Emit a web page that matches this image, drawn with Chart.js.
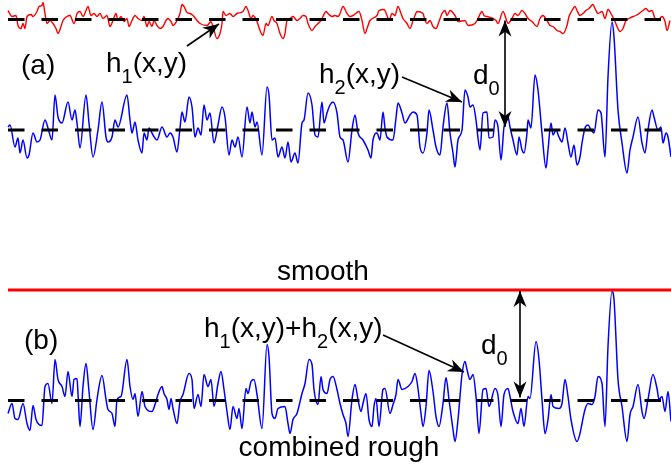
<!DOCTYPE html>
<html>
<head>
<meta charset="utf-8">
<script src="https://cdn.jsdelivr.net/npm/chart.js@4.4.1/dist/chart.umd.min.js"></script>
<style>
  html, body { margin: 0; padding: 0; background: #fff; }
  #wrap { width: 671px; height: 465px; }
</style>
</head>
<body>
<div id="wrap"><canvas id="surfChart" width="671" height="465"></canvas></div>
<script>
// h1: fine roughness of the upper surface (position, height about its mean plane)
const h1X = [8,12,16,18,21,23,25,27,31,33,37,39,42,43,45,47,50,53,56,58,61,63,67,70,74,77,80,83,86,88,91,94,97,100,103,107,110,113,116,118,121,124,127,129,132,135,138,142,144,147,149,152,154,157,160,163,166,168,171,173,177,180,182,184,187,190,193,197,200,207,211,213,217,220,222,223,226,230,233,237,243,246,248,251,253,257,260,263,266,268,272,274,277,280,283,285,287,290,293,297,300,303,306,308,312,315,318,321,323,326,328,332,335,338,340,343,347,350,353,359,362,365,367,370,377,379,384,387,389,392,395,398,401,403,407,410,413,415,417,423,425,427,430,433,436,439,442,445,447,450,455,458,465,468,475,478,482,484,487,493,496,498,503,506,508,512,515,518,522,525,528,532,537,540,543,547,550,553,557,560,563,567,569,572,575,577,580,583,586,589,593,595,598,602,605,608,612,615,617,620,623,626,629,633,636,643,646,649,652,655,658,662,665,667,670];
const h1Y = [9,3,4,-6,-9,-4,-9,3,5,3,8,13,14,17,6,-4,-1,-4,-9,-14,-7,-1,3,4,-4,6,8,3,9,13,4,6,3,6,1,4,-7,-1,6,-1,3,-2,1,-7,-1,4,1,-1,3,-7,-2,-7,-1,-6,-9,-7,-1,1,-2,-6,-1,6,15,13,7,6,4,-1,-4,-6,-2,-7,-19,-14,-4,8,4,6,3,6,8,13,9,1,4,-2,-11,-16,-4,-6,3,-1,-4,-14,-19,-14,-1,1,3,-1,1,4,3,-4,-11,-7,-4,-1,3,8,6,3,4,3,6,13,6,3,4,8,-1,-14,-9,-1,4,9,10,4,-1,6,4,13,6,1,-4,-9,-1,4,8,6,-1,-4,-1,-7,-9,-2,6,9,4,9,4,-2,-1,-6,-4,1,8,4,3,1,-1,-4,8,1,-4,1,6,4,9,6,1,-2,-7,1,4,-1,-6,-7,-11,-12,-14,-6,3,9,13,9,4,6,9,11,15,11,6,8,1,10,4,-2,-7,-12,-9,-1,1,3,4,9,11,8,9,1,-1,3,-2,-11,-1];

// h2: long-wavelength roughness of the lower surface
const h2X = [8,10,15,18,20,23,27,29,33,37,40,45,48,52,55,58,62,68,72,75,77,80,86,89,93,98,102,106,108,112,115,118,127,130,132,135,138,142,144,147,149,153,157,162,167,170,173,177,180,182,185,189,192,195,198,201,204,207,210,214,218,222,225,229,232,235,238,242,247,250,252,255,257,262,267,269,272,275,278,282,285,288,291,295,298,302,304,308,312,315,318,322,324,327,330,333,337,340,343,348,352,355,358,363,368,371,373,377,380,383,385,387,393,396,398,402,405,410,413,417,420,423,427,429,433,436,440,443,447,450,453,455,458,462,465,468,470,473,476,478,480,483,487,489,493,495,498,501,504,508,510,513,517,519,522,524,527,528,531,535,538,542,546,548,551,553,556,559,562,565,568,571,574,577,580,582,585,588,591,594,598,601,605,608,612,614,618,622,627,630,633,638,642,645,648,652,654,658,661,663,666,668,671];
const h2Y = [3,5,-17,-8,-23,-10,-28,-25,-3,-12,-10,10,2,-10,35,13,7,28,10,20,7,-18,35,7,-27,0,28,-7,-12,-7,10,3,35,10,-3,8,-10,-23,-3,-10,2,-5,-10,3,-7,-3,-7,-22,2,18,8,33,23,-7,2,-5,25,10,17,-13,5,23,13,-25,-10,-17,-7,-27,23,7,18,3,8,-25,43,35,-10,-8,-27,-17,-28,-12,-32,-23,-33,7,10,37,25,-5,-7,28,7,17,25,28,17,-7,-10,-32,0,15,-3,-10,-20,-28,-10,-3,-10,18,2,-7,-10,12,27,17,7,15,18,15,-17,-23,-3,20,0,-17,-25,3,27,-3,-23,-37,-10,0,40,33,23,25,10,-8,-20,17,18,-8,-7,10,3,-30,3,13,3,-10,-25,-7,-20,-23,-3,10,2,55,40,-3,-38,-20,7,-5,0,-7,-12,2,-13,-27,-15,-35,-27,-13,2,5,0,-3,20,17,-27,53,108,93,20,-13,-43,-20,-7,13,-13,-23,0,20,13,0,3,-13,-3,-7,-27];

// combined roughness h1 + h2 facing the smooth surface
const sumX = [8,12,15,18,23,27,30,33,36,39,42,45,48,52,55,58,62,65,68,72,74,77,78,80,83,86,89,93,97,102,106,108,112,115,117,121,127,130,133,135,138,142,145,152,155,158,162,164,167,169,171,173,177,180,183,189,192,194,198,201,204,208,211,214,218,221,224,227,230,233,237,239,242,246,248,251,254,257,262,267,269,272,275,278,285,288,290,293,297,302,305,309,312,314,318,321,323,327,330,333,337,340,343,346,348,352,355,358,361,363,366,369,372,374,376,379,383,385,390,393,396,398,402,408,412,415,417,421,423,426,429,433,436,439,443,446,449,453,455,458,462,465,467,470,473,476,479,483,486,489,495,498,501,504,508,510,513,518,521,524,528,530,536,539,542,545,548,551,553,559,562,565,568,571,577,580,582,585,588,592,595,598,602,605,608,612,614,618,622,627,630,633,638,642,644,648,653,657,659,662,665,668,671];
const sumY = [-13,-3,-18,-19,-3,-23,-30,-5,-19,-24,-25,14,17,-3,41,21,14,4,29,4,21,22,7,-26,14,37,9,-29,1,25,1,-9,-13,-26,1,4,41,14,1,7,-16,9,-6,-11,-4,6,14,7,1,-9,2,-8,-23,-1,6,27,21,-8,6,-6,26,14,21,-6,17,29,11,-11,-29,-6,-18,-8,-28,12,7,19,21,6,-28,56,44,-13,-18,-8,-6,-23,-33,-19,-13,7,17,41,36,11,-4,24,11,7,21,24,11,-3,-14,-23,-36,1,16,1,-11,-3,7,-19,-26,-6,2,-26,11,12,-13,-4,6,21,11,14,19,27,19,-13,-26,-6,30,9,-16,-26,-3,23,1,-29,-41,-19,26,39,31,21,26,4,-33,11,12,-6,12,5,-26,6,12,4,-11,-23,-8,-26,4,2,59,41,1,-33,-19,6,-6,-8,-3,21,4,-19,-41,-33,-23,-9,-3,-4,4,24,17,-26,54,109,101,21,-6,-41,-14,-6,16,-11,-18,1,26,12,1,4,-11,9,-21];

// gap between the mean planes
const d0 = 110.5;
// extent of the profiles and of the mean-plane dashes
const xStart = 8, xEnd = 671, dashEnd = 663;

const toPts = (xs, ys) => xs.map((x, i) => ({ x: x, y: ys[i] }));
const meanLine = (axis, y) => ({
  data: [{ x: xStart, y: y }, { x: dashEnd, y: y }],
  yAxisID: axis,
  borderColor: '#000',
  borderWidth: 3,
  borderDash: [16.5, 17],
  order: 0
});
const profile = (axis, xs, ys, color, w) => ({
  data: toPts(xs, ys),
  yAxisID: axis,
  borderColor: color,
  borderWidth: w,
  cubicInterpolationMode: 'monotone',
  order: 1
});

const FONT = '"Liberation Sans", Arial, sans-serif';

function label(ctx, parts, x, y) {
  // parts: [text, isSubscript]
  let cx = x;
  parts.forEach(([t, sub]) => {
    ctx.font = (sub ? '20px ' : '28px ') + FONT;
    ctx.fillText(t, cx, sub ? y + 11 : y);
    cx += ctx.measureText(t).width;
  });
}

function arrowHead(ctx, x1, y1, x2, y2) {
  const len = 16, half = 6.5;
  const dx = x2 - x1, dy = y2 - y1;
  const d = Math.hypot(dx, dy);
  const ux = dx / d, uy = dy / d;
  const bx = x2 - ux * len, by = y2 - uy * len;
  ctx.beginPath();
  ctx.moveTo(x2, y2);
  ctx.lineTo(bx - uy * half, by + ux * half);
  ctx.lineTo(x2 - ux * len * 0.7, y2 - uy * len * 0.7);
  ctx.lineTo(bx + uy * half, by - ux * half);
  ctx.closePath();
  ctx.fill();
}

function arrow(ctx, x1, y1, x2, y2, both) {
  ctx.beginPath();
  ctx.moveTo(x1, y1);
  ctx.lineTo(x2, y2);
  ctx.stroke();
  arrowHead(ctx, x1, y1, x2, y2);
  if (both) arrowHead(ctx, x2, y2, x1, y1);
}

const notes = {
  id: 'notes',
  afterDraw(chart) {
    const ctx = chart.ctx;
    const sx = chart.scales.x, ya = chart.scales.ya, yb = chart.scales.yb;
    ctx.save();
    ctx.fillStyle = '#000';
    ctx.strokeStyle = '#000';
    ctx.lineWidth = 1.6;
    ctx.textBaseline = 'alphabetic';

    // panel (a)
    label(ctx, [['(a)', false]], 21, 74);
    label(ctx, [['h', false], ['1', true], ['(x,y)', false]], 106, 72);
    label(ctx, [['h', false], ['2', true], ['(x,y)', false]], 319, 83);
    label(ctx, [['d', false], ['0', true]], 473, 84);
    arrow(ctx, 187, 46, 219, 24);
    arrow(ctx, 402, 77, 462, 102);
    const xa = sx.getPixelForValue(505);
    arrow(ctx, xa, ya.getPixelForValue(0) - 3, xa, ya.getPixelForValue(d0) + 1, true);

    // panel (b)
    ctx.textAlign = 'center';
    ctx.font = '28px ' + FONT;
    ctx.fillText('smooth', 323, 280);
    ctx.fillText('combined rough', 339, 456);
    ctx.textAlign = 'left';
    label(ctx, [['(b)', false]], 24, 349);
    label(ctx, [['h', false], ['1', true], ['(x,y)+h', false], ['2', true], ['(x,y)', false]], 204, 337);
    label(ctx, [['d', false], ['0', true]], 481, 354);
    arrow(ctx, 383, 335, 464, 372);
    const xb = sx.getPixelForValue(520);
    arrow(ctx, xb, yb.getPixelForValue(0) - 3, xb, yb.getPixelForValue(d0) + 1, true);
    ctx.restore();
  }
};

new Chart(document.getElementById('surfChart'), {
  type: 'line',
  data: {
    datasets: [
      meanLine('yh1', 0),
      meanLine('ya', 0),
      meanLine('yb', 0),
      {
        data: [{ x: xStart, y: d0 }, { x: xEnd, y: d0 }],
        yAxisID: 'yb',
        borderColor: '#ff0000',
        borderWidth: 3,
        order: 1
      },
      profile('yh1', h1X, h1Y, '#ff0000', 1.4),
      profile('ya', h2X, h2Y, '#0000ff', 1.5),
      profile('yb', sumX, sumY, '#0000ff', 1.5)
    ]
  },
  options: {
    responsive: false,
    animation: false,
    layout: { padding: 0 },
    elements: { point: { radius: 0 } },
    plugins: { legend: { display: false }, tooltip: { enabled: false } },
    scales: {
      x: { type: 'linear', min: 0, max: 671, display: false },
      // one unit of height per pixel; each panel keeps its own zero
      ya: { type: 'linear', min: -335, max: 130, display: false },
      yh1: { type: 'linear', min: -335 - d0, max: 130 - d0, display: false },
      yb: { type: 'linear', min: -64.5, max: 400.5, display: false }
    }
  },
  plugins: [notes]
});
</script>
</body>
</html>
